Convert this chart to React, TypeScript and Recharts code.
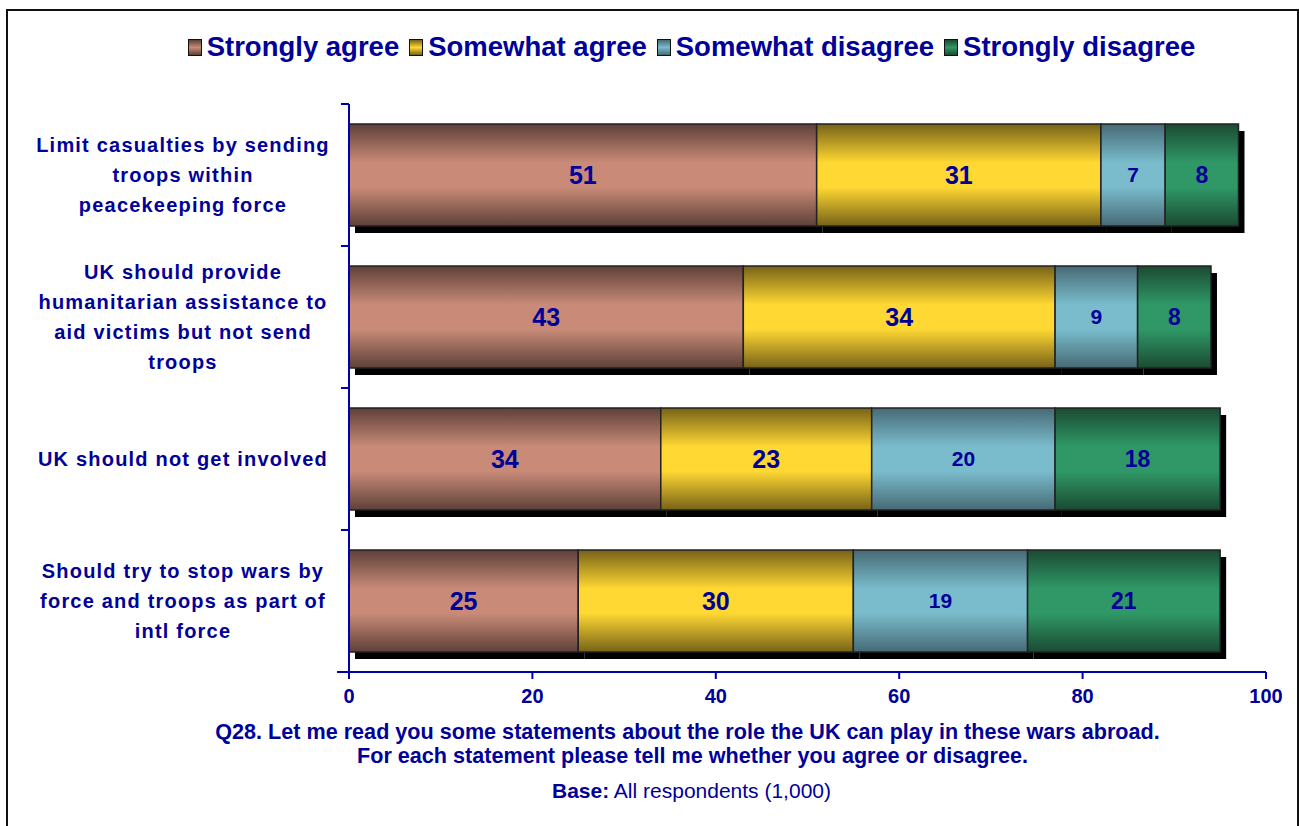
import { BarChart, Bar, XAxis, YAxis, LabelList } from 'recharts';

const categories = [
  ['Limit casualties by sending', 'troops within', 'peacekeeping force'],
  ['UK should provide', 'humanitarian assistance to', 'aid victims but not send', 'troops'],
  ['UK should not get involved'],
  ['Should try to stop wars by', 'force and troops as part of', 'intl force'],
];
const stronglyAgree = [51, 43, 34, 25];
const somewhatAgree = [31, 34, 23, 30];
const somewhatDisagree = [7, 9, 20, 19];
const stronglyDisagree = [8, 8, 18, 21];
const xTicks = [0, 20, 40, 60, 80, 100];

const series = [
  { key: 'sa', name: 'Strongly agree', dark: '#5e4038', light: '#c98b78', labelSize: 25 },
  { key: 'wa', name: 'Somewhat agree', dark: '#776218', light: '#ffd833', labelSize: 25 },
  { key: 'wd', name: 'Somewhat disagree', dark: '#466a75', light: '#7abccc', labelSize: 21 },
  { key: 'sd', name: 'Strongly disagree', dark: '#1b4a33', light: '#2f9866', labelSize: 23 },
];

const data = categories.map((lines, i) => ({
  name: lines.join(' '),
  sa: stronglyAgree[i],
  wa: somewhatAgree[i],
  wd: somewhatDisagree[i],
  sd: stronglyDisagree[i],
}));

const BLUE = '#000099';
const AXIS = '#0000aa';
const FONT = '"Liberation Sans", Arial, sans-serif';
const BAND = 142;

const ShadowBar = (props: any) => {
  const { x, y, width, height, fill } = props;
  if (!width || width <= 0) return null;
  return (
    <g>
      <rect x={x + 6} y={y + 7} width={width} height={height} fill="#000" />
      <rect x={x} y={y} width={width} height={height} fill={fill} stroke="#222" strokeWidth={1.5} />
    </g>
  );
};

const CategoryTick = (props: any) => {
  const { y, payload, index } = props;
  const lines: string[] = categories[payload.index ?? index] || [payload.value];
  const lh = 30;
  const start = y - ((lines.length - 1) * lh) / 2;
  return (
    <g>
      <line x1={341} x2={349} y1={y - BAND / 2} y2={y - BAND / 2} stroke={AXIS} strokeWidth={2} />
      <text
        textAnchor="middle"
        fill={BLUE}
        fontFamily={FONT}
        fontWeight="bold"
        fontSize={20}
        letterSpacing={1.2}
      >
        {lines.map((l, i) => (
          <tspan key={i} x={183} y={start + i * lh} dy={7}>
            {l}
          </tspan>
        ))}
      </text>
    </g>
  );
};

export default function App() {
  return (
    <div
      style={{
        position: 'absolute',
        left: 0,
        top: 0,
        width: 1299,
        height: 826,
        background: '#fff',
        fontFamily: FONT,
        overflow: 'hidden',
      }}
    >
      <div
        style={{
          position: 'absolute',
          left: 6,
          top: 9,
          width: 1289,
          height: 830,
          border: '2px solid #111',
          boxSizing: 'content-box',
        }}
      />
      <div
        style={{
          position: 'absolute',
          top: 30,
          left: 0,
          width: 1383,
          display: 'flex',
          justifyContent: 'center',
          gap: 10,
          color: BLUE,
          fontWeight: 'bold',
          fontSize: 27.5,
          lineHeight: '34px',
        }}
      >
        {series.map((s) => (
          <div key={s.key} style={{ display: 'flex', alignItems: 'center', gap: 5 }}>
            <span
              style={{
                width: 12,
                height: 15,
                border: '1.5px solid #111',
                background: `linear-gradient(to bottom, ${s.dark}, ${s.light} 50%, ${s.dark})`,
              }}
            />
            <span>{s.name}</span>
          </div>
        ))}
      </div>
      <div style={{ position: 'absolute', left: 0, top: 0 }}>
        <BarChart
          width={1299}
          height={826}
          data={data}
          layout="vertical"
          margin={{ top: 104, right: 33, left: 0, bottom: 114 }}
          barSize={102}
        >
          <defs>
            {series.map((s) => (
              <linearGradient key={s.key} id={`g-${s.key}`} x1="0" y1="0" x2="0" y2="1">
                <stop offset="0%" stopColor={s.dark} />
                <stop offset="38%" stopColor={s.light} />
                <stop offset="62%" stopColor={s.light} />
                <stop offset="100%" stopColor={s.dark} />
              </linearGradient>
            ))}
          </defs>
          <XAxis
            type="number"
            domain={[0, 100]}
            ticks={xTicks}
            height={40}
            stroke={AXIS}
            strokeWidth={2}
            tickSize={7}
            tick={{ fill: BLUE, fontSize: 20, fontWeight: 'bold', fontFamily: FONT }}
            tickMargin={10}
          />
          <YAxis
            type="category"
            dataKey="name"
            width={349}
            stroke={AXIS}
            strokeWidth={2}
            tickLine={false}
            tick={<CategoryTick />}
            interval={0}
          />
          {series.map((s) => (
            <Bar
              key={s.key}
              dataKey={s.key}
              stackId="a"
              fill={`url(#g-${s.key})`}
              shape={<ShadowBar />}
              isAnimationActive={false}
            >
              <LabelList
                dataKey={s.key}
                position="center"
                fill={BLUE}
                fontSize={s.labelSize}
                fontWeight="bold"
                fontFamily={FONT}
              />
            </Bar>
          ))}
        </BarChart>
      </div>
      <svg style={{ position: 'absolute', left: 0, top: 0 }} width={1299} height={826}>
        <line x1={337} x2={349} y1={672} y2={672} stroke={AXIS} strokeWidth={2} />
      </svg>
      <div
        style={{
          position: 'absolute',
          top: 720,
          left: 0,
          width: 1375,
          textAlign: 'center',
          color: BLUE,
          fontWeight: 'bold',
          fontSize: 21.6,
          lineHeight: '24px',
        }}
      >
        <div>Q28. Let me read you some statements about the role the UK can play in these wars abroad.</div>
        <div style={{ paddingLeft: 10 }}>For each statement please tell me whether you agree or disagree.</div>
      </div>
      <div
        style={{
          position: 'absolute',
          top: 778,
          left: 0,
          width: 1383,
          textAlign: 'center',
          color: BLUE,
          fontSize: 21,
          lineHeight: '26px',
        }}
      >
        <b>Base:</b> All respondents (1,000)
      </div>
    </div>
  );
}
